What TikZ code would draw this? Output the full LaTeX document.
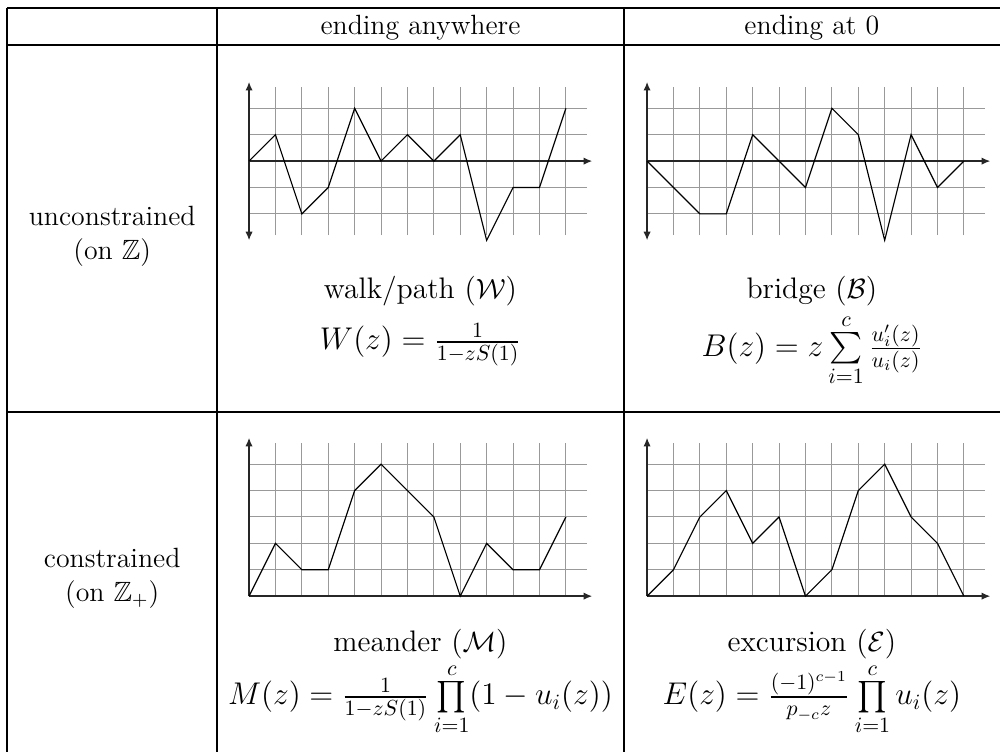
\documentclass[12pt,tikz,border=0pt]{standalone}
\usepackage{amsmath}
\usepackage{amssymb}
\usepackage{graphicx}
\usepackage{tikz}
\usetikzlibrary{arrows.meta}
\tikzset{
  tablerule/.style={line width=0.8pt},
  gridline/.style={gray!80, line width=0.4pt},
  axisline/.style={black!85, line width=0.6pt, >={Latex[length=1.3mm,width=1.1mm]}},
  walkline/.style={black, line width=0.5pt, line join=miter},
  namenode/.style={anchor=base, font=\fontsize{12.8}{15.5}\selectfont},
  gfnode/.style={anchor=base, font=\large},
}
\newcommand{\gfsize}[1]{\scalebox{0.94}{#1}}

\begin{document}
\begin{tikzpicture}
  \useasboundingbox (0,0) rectangle (15.15,11.38);

  % Table rules
  \draw[tablerule] (0.106,11.265) -- (15.2,11.265);
  \draw[tablerule] (0.106,10.697) -- (15.2,10.697);
  \draw[tablerule] (0.106,5.136) -- (15.2,5.136);
  \draw[tablerule] (0.106,-0.05) -- (15.2,-0.05);
  \draw[tablerule] (0.106,11.265) -- (0.106,-0.05);
  \draw[tablerule] (3.288,11.265) -- (3.288,-0.05);
  \draw[tablerule] (9.455,11.265) -- (9.455,-0.05);
  \draw[tablerule] (15.17,11.265) -- (15.17,-0.05);

  % Column heads
  \node[anchor=base] (headany) at (6.37,10.86) {ending anywhere};
  \node[anchor=base] (headzero) at (12.30,10.86) {ending at $0$};

  % Row heads
  \node[align=center] (rowfree) at (1.70,7.80) {unconstrained\\(on $\mathbb{Z}$)};
  \node[align=center] (rowpos) at (1.70,2.62) {constrained\\(on $\mathbb{Z}_+$)};

  % Walk
  \begin{scope}[shift={(3.773,8.939)}, scale=0.4]
    \draw[gridline] (0,-2.8) grid (12.8,2.8);
    \draw[axisline, <->] (0,-3) -- (0,3);
    \draw[axisline, ->] (0,0) -- (13,0);
    \draw[walkline] (0,0) -- (1,1) -- (2,-2) -- (3,-1) -- (4,2) -- (5,0) -- (6,1)
      -- (7,0) -- (8,1) -- (9,-3) -- (10,-1) -- (11,-1) -- (12,2);
  \end{scope}
  \node[namenode] (walkname) at (6.37,6.85) {walk/path ($\mathcal{W}$)};
  \node[gfnode] (walkgf) at (6.37,6.08) {\gfsize{$W(z)=\frac{1}{1-zS(1)}$}};

  % Bridge
  \begin{scope}[shift={(9.803,8.939)}, scale=0.4]
    \draw[gridline] (0,-2.8) grid (12.8,2.8);
    \draw[axisline, <->] (0,-3) -- (0,3);
    \draw[axisline, ->] (0,0) -- (13,0);
    \draw[walkline] (0,0) -- (1,-1) -- (2,-2) -- (3,-2) -- (4,1) -- (5,0) -- (6,-1)
      -- (7,2) -- (8,1) -- (9,-3) -- (10,1) -- (11,-1) -- (12,0);
  \end{scope}
  \node[namenode] (bridgename) at (12.30,6.85) {bridge ($\mathcal{B}$)};
  \node[gfnode] (bridgegf) at (12.30,5.98) {\gfsize{$B(z)=z\sum\limits_{i=1}^{c}\frac{u_i'(z)}{u_i(z)}$}};

  % Meander
  \begin{scope}[shift={(3.773,2.348)}, scale=0.4]
    \draw[gridline] (0,0) grid (12.8,5.8);
    \draw[axisline, ->] (0,0) -- (0,6);
    \draw[axisline, ->] (0,0) -- (13,0);
    \draw[walkline] (0,0) -- (1,2) -- (2,1) -- (3,1) -- (4,4) -- (5,5) -- (6,4)
      -- (7,3) -- (8,0) -- (9,2) -- (10,1) -- (11,1) -- (12,3);
  \end{scope}
  \node[namenode] (meandername) at (6.37,1.515) {meander ($\mathcal{M}$)};
  \node[gfnode] (meandergf) at (6.37,0.70) {\gfsize{$M(z)=\frac{1}{1-zS(1)}\prod\limits_{i=1}^{c}(1-u_i(z))$}};

  % Excursion
  \begin{scope}[shift={(9.803,2.348)}, scale=0.4]
    \draw[gridline] (0,0) grid (12.8,5.8);
    \draw[axisline, ->] (0,0) -- (0,6);
    \draw[axisline, ->] (0,0) -- (13,0);
    \draw[walkline] (0,0) -- (1,1) -- (2,3) -- (3,4) -- (4,2) -- (5,3) -- (6,0)
      -- (7,1) -- (8,4) -- (9,5) -- (10,3) -- (11,2) -- (12,0);
  \end{scope}
  \node[namenode] (excursionname) at (12.30,1.515) {excursion ($\mathcal{E}$)};
  \node[gfnode] (excursiongf) at (12.30,0.70) {\gfsize{$E(z)=\frac{(-1)^{c-1}}{p_{-c}z}\prod\limits_{i=1}^{c}u_i(z)$}};
\end{tikzpicture}
\end{document}
